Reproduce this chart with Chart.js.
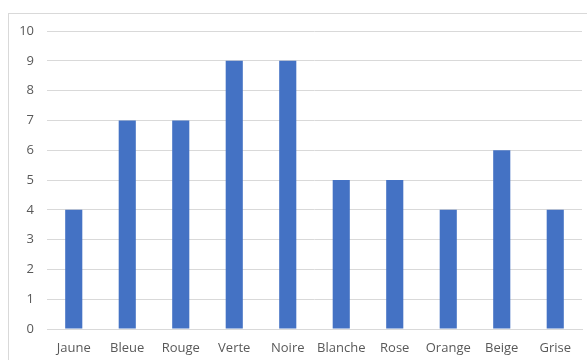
<!DOCTYPE html>
<html>
<head>
<meta charset="utf-8">
<script src="https://cdn.jsdelivr.net/npm/chart.js@4/dist/chart.umd.min.js"></script>
<style>
html,body{margin:0;padding:0;background:#fff;overflow:hidden;}
#wrap{position:absolute;left:0;top:0;width:587px;height:360px;}
</style>
</head>
<body>
<div id="wrap"><canvas id="c" width="587" height="360"></canvas></div>
<script>
const categories = ["Jaune","Bleue","Rouge","Verte","Noire","Blanche","Rose","Orange","Beige","Grise"];
const values = [4,7,7,9,9,5,5,4,6,4];
const yMin = 0, yMax = 10, yStep = 1;

const borderPlugin = {
  id: 'outerBorder',
  beforeDraw(chart) {
    const ctx = chart.ctx;
    ctx.save();
    ctx.strokeStyle = '#d9d9d9';
    ctx.lineWidth = 1;
    ctx.strokeRect(8.5, 13.5, 600, 400);
    ctx.restore();
  }
};

new Chart(document.getElementById('c'), {
  type: 'bar',
  data: {
    labels: categories,
    datasets: [{
      data: values,
      backgroundColor: '#4472C4',
      borderWidth: 0,
      barPercentage: 0.64,
      categoryPercentage: 0.5
    }]
  },
  options: {
    responsive: false,
    animation: false,
    devicePixelRatio: 1,
    layout: { padding: { top: 31, right: 5, left: 0, bottom: 0 } },
    plugins: { legend: { display: false }, tooltip: { enabled: false } },
    scales: {
      x: {
        grid: { display: false, drawTicks: false },
        border: { display: true, color: '#d9d9d9', width: 1 },
        ticks: { color: '#595959', font: { family: 'Open Sans', size: 13 }, padding: 11, maxRotation: 0 },
        afterFit(s) { s.height = 31; }
      },
      y: {
        min: yMin, max: yMax,
        ticks: { stepSize: yStep, color: '#595959', font: { family: 'Open Sans', size: 13 }, padding: 13 },
        grid: { color: '#d9d9d9', lineWidth: 1, drawTicks: false },
        border: { display: false },
        afterFit(s) { s.width = 47; }
      }
    }
  },
  plugins: [borderPlugin]
});
</script>
</body>
</html>
